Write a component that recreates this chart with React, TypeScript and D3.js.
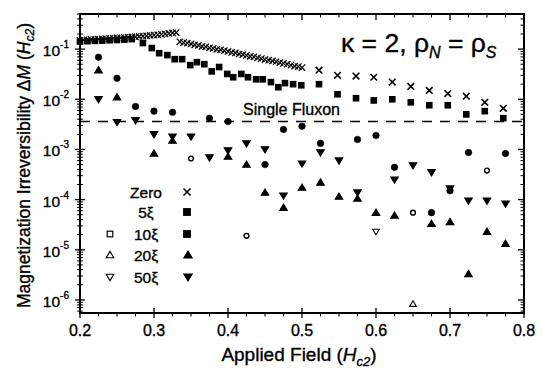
import React from "react";
import * as d3 from "d3";

// ---------- data ----------
const zeroDenseX = [
  0.2, 0.205, 0.21, 0.215, 0.22, 0.225, 0.23, 0.235, 0.24, 0.245, 0.25, 0.255, 0.26, 0.265,
  0.27, 0.275, 0.28, 0.285, 0.29, 0.295, 0.3, 0.305, 0.31, 0.315, 0.32, 0.325, 0.33,
  0.335, 0.34, 0.345, 0.35, 0.355, 0.36, 0.365, 0.37, 0.375, 0.38, 0.385, 0.39, 0.395, 0.4,
  0.405, 0.41, 0.415, 0.42, 0.425, 0.43, 0.435, 0.44, 0.445, 0.45, 0.455, 0.46, 0.465, 0.47,
  0.475, 0.48, 0.485, 0.49, 0.495, 0.5,
];
const zeroDenseY = [
  0.15, 0.152, 0.153, 0.156, 0.157, 0.158, 0.16, 0.161, 0.163, 0.165, 0.167, 0.168, 0.171, 0.173,
  0.175, 0.176, 0.179, 0.181, 0.184, 0.187, 0.19, 0.193, 0.197, 0.201, 0.205, 0.21, 0.214,
  0.14, 0.135, 0.131, 0.127, 0.122, 0.119, 0.114, 0.111, 0.106, 0.104, 0.099, 0.097, 0.093, 0.09,
  0.086, 0.084, 0.08, 0.078, 0.075, 0.072, 0.07, 0.067, 0.065, 0.062, 0.06, 0.058, 0.056, 0.054,
  0.052, 0.05, 0.048, 0.046, 0.045, 0.043,
];
const sparseX = [0.523, 0.548, 0.573, 0.597, 0.622, 0.647, 0.672, 0.697, 0.722, 0.747, 0.772];
const zeroSparseY = [0.038, 0.03, 0.029, 0.0275, 0.022, 0.018, 0.015, 0.013, 0.0115, 0.0087, 0.0066];
const fiveSparseY = [0.02, 0.0126, 0.0105, 0.0095, 0.01, 0.0087, 0.0076, 0.0076, 0.005, 0.0058, 0.0042];

const fiveDenseX = [
  0.2, 0.21, 0.22, 0.23, 0.24, 0.25, 0.26, 0.27,
  0.285, 0.297, 0.307, 0.318, 0.328, 0.338, 0.349, 0.358, 0.368, 0.378, 0.388, 0.399, 0.407,
  0.418, 0.427, 0.438, 0.447, 0.458, 0.468, 0.477, 0.488, 0.499,
];
const fiveDenseY = [
  0.142, 0.144, 0.146, 0.148, 0.15, 0.152, 0.155, 0.158,
  0.132, 0.105, 0.083, 0.076, 0.063, 0.063, 0.048, 0.055, 0.05, 0.036, 0.044, 0.032, 0.0275,
  0.032, 0.0275, 0.025, 0.025, 0.022, 0.0174, 0.021, 0.02, 0.019,
];

const tenFilledX = [0.225, 0.25, 0.275, 0.3, 0.325, 0.375, 0.4, 0.45, 0.475, 0.5, 0.525, 0.575, 0.6, 0.625, 0.675, 0.7, 0.725, 0.775];
const tenFilledY = [0.069, 0.0263, 0.0072, 0.0058, 0.0055, 0.0042, 0.0036, 0.0005, 0.0025, 0.0029, 0.00132, 0.00158, 0.0019, 0.00044, 0.000055, 0.00015, 0.00087, 0.00083];
const tenOpenX = [0.35, 0.425, 0.65, 0.75];
const tenOpenY = [0.00066, 0.000019, 0.000055, 0.00038];

const twentyFilledX = [0.225, 0.25, 0.3, 0.325, 0.4, 0.425, 0.45, 0.475, 0.5, 0.525, 0.55, 0.575, 0.6, 0.625, 0.675, 0.7, 0.725, 0.75, 0.775];
const twentyFilledY = [0.038, 0.011, 0.00083, 0.0015, 0.00072, 0.0005, 0.000138, 0.000069, 0.000174, 0.00022, 0.000115, 0.000105, 0.000055, 0.000048, 0.000033, 0.000036, 0.0000033, 0.000023, 0.0000132];
const twentyOpenX = [0.65];
const twentyOpenY = [0.00000083];

const fiftyFilledX = [0.225, 0.25, 0.275, 0.3, 0.325, 0.35, 0.375, 0.4, 0.425, 0.45, 0.475, 0.5, 0.525, 0.55, 0.575, 0.625, 0.65, 0.675, 0.7, 0.725, 0.75, 0.775];
const fiftyFilledY = [0.01, 0.0035, 0.0038, 0.002, 0.0018, 0.0018, 0.00069, 0.00095, 0.00132, 0.001, 0.00012, 0.00052, 0.00087, 0.0006, 0.000138, 0.00025, 0.00048, 0.00035, 0.000166, 0.000095, 0.000095, 0.000083];
const fiftyOpenX = [0.6];
const fiftyOpenY = [0.000023];

const singleFluxon = 0.0036;

const xTicks = [0.2, 0.3, 0.4, 0.5, 0.6, 0.7, 0.8];
const xTickLabels = ["0.2", "0.3", "0.4", "0.5", "0.6", "0.7", "0.8"];
const yExponents = [-1, -2, -3, -4, -5, -6];

const legendLabels = ["Zero", "5\u03be", "10\u03be", "20\u03be", "50\u03be"];

// ---------- layout ----------
const W = 543, H = 370;
const L = 80, R = 524, T = 14, B = 313;
const FONT = "'Liberation Sans', Arial, sans-serif";
const TS = { stroke: "#000", strokeWidth: 0.35 };

const x = d3.scaleLinear().domain([0.2, 0.8]).range([L, R]);
const y = d3.scaleLog().domain([Math.pow(10, -6.26), Math.pow(10, -0.3)]).range([B, T]);

const zip = (xs: number[], ys: number[]) => xs.map((v, i) => [v, ys[i]] as [number, number]);

function Cross({ cx, cy, s, w }: { cx: number; cy: number; s: number; w: number }) {
  return (
    <path d={`M${cx - s},${cy - s}L${cx + s},${cy + s}M${cx - s},${cy + s}L${cx + s},${cy - s}`} stroke="#000" strokeWidth={w} fill="none" />
  );
}
function Square({ cx, cy, s, filled }: { cx: number; cy: number; s: number; filled: boolean }) {
  return <rect x={cx - s} y={cy - s} width={2 * s} height={2 * s} fill={filled ? "#000" : "#fff"} stroke="#000" strokeWidth={1.2} />;
}
function Circle({ cx, cy, r, filled }: { cx: number; cy: number; r: number; filled: boolean }) {
  return <circle cx={cx} cy={cy} r={r} fill={filled ? "#000" : "#fff"} stroke="#000" strokeWidth={filled ? 0.5 : 1.4} />;
}
function Tri({ cx, cy, s, up, filled }: { cx: number; cy: number; s: number; up: boolean; filled: boolean }) {
  const d = up
    ? `M${cx},${cy - s}L${cx + s * 1.05},${cy + s * 0.75}L${cx - s * 1.05},${cy + s * 0.75}Z`
    : `M${cx},${cy + s}L${cx + s * 1.05},${cy - s * 0.75}L${cx - s * 1.05},${cy - s * 0.75}Z`;
  return <path d={d} fill={filled ? "#000" : "#fff"} stroke="#000" strokeWidth={1.1} />;
}

export default function App() {
  const xMinor: number[] = [];
  for (let v = 0.225; v < 0.8; v += 0.025) {
    const r = Math.round(v * 1000) / 1000;
    if (Math.abs(r * 10 - Math.round(r * 10)) > 1e-6) xMinor.push(r);
  }
  const yMinor: number[] = [];
  for (let e = -7; e <= -1; e++) {
    for (let k = 2; k <= 9; k++) {
      const v = k * Math.pow(10, e);
      if (v > y.domain()[0] && v < y.domain()[1]) yMinor.push(v);
    }
  }

  const tickEls: React.ReactNode[] = [];
  xTicks.forEach((t, i) => {
    const px = x(t);
    tickEls.push(<line key={"xb" + i} x1={px} x2={px} y1={B - 5} y2={B + 5} stroke="#000" strokeWidth={1.3} />);
    tickEls.push(<line key={"xt" + i} x1={px} x2={px} y1={T} y2={T + 6} stroke="#000" strokeWidth={1.3} />);
  });
  xMinor.forEach((t, i) => {
    const px = x(t);
    tickEls.push(<line key={"xbm" + i} x1={px} x2={px} y1={B} y2={B + 3.5} stroke="#000" strokeWidth={1.1} />);
    tickEls.push(<line key={"xtm" + i} x1={px} x2={px} y1={T} y2={T + 3.5} stroke="#000" strokeWidth={1.1} />);
  });
  yExponents.forEach((e, i) => {
    const py = y(Math.pow(10, e));
    tickEls.push(<line key={"yl" + i} x1={L - 5} x2={L + 5} y1={py} y2={py} stroke="#000" strokeWidth={1.3} />);
    tickEls.push(<line key={"yr" + i} x1={R - 6} x2={R} y1={py} y2={py} stroke="#000" strokeWidth={1.3} />);
  });
  yMinor.forEach((v, i) => {
    const py = y(v);
    tickEls.push(<line key={"ylm" + i} x1={L - 3} x2={L + 3} y1={py} y2={py} stroke="#000" strokeWidth={1} />);
    tickEls.push(<line key={"yrm" + i} x1={R - 3.5} x2={R} y1={py} y2={py} stroke="#000" strokeWidth={1} />);
  });

  const legendYs = [192, 212, 234, 255, 277];

  return (
    <svg width={W} height={H} style={{ position: "absolute", left: 0, top: 0, background: "#fff" }} fontFamily={FONT}>
      <rect x={0} y={0} width={W} height={H} fill="#fff" />
      {/* single fluxon line */}
      <line x1={L} x2={R} y1={y(singleFluxon)} y2={y(singleFluxon)} stroke="#000" strokeWidth={1.6} strokeDasharray="10 8" />
      <text x={243} y={115} fontSize={16} fill="#000" {...TS}>Single Fluxon</text>

      {/* data */}
      {zip(zeroDenseX, zeroDenseY).map(([a, b], i) => (
        <Cross key={"zd" + i} cx={x(a)} cy={y(b)} s={3.2} w={1.2} />
      ))}
      {zip(sparseX, zeroSparseY).map(([a, b], i) => (
        <Cross key={"zs" + i} cx={x(a)} cy={y(b)} s={3.3} w={1.6} />
      ))}
      {zip(fiveDenseX, fiveDenseY).map(([a, b], i) => (
        <Square key={"fd" + i} cx={x(a)} cy={y(b)} s={2.7} filled />
      ))}
      {zip(sparseX, fiveSparseY).map(([a, b], i) => (
        <Square key={"fs" + i} cx={x(a)} cy={y(b)} s={2.7} filled />
      ))}
      {zip(tenFilledX, tenFilledY).map(([a, b], i) => (
        <Circle key={"tf" + i} cx={x(a)} cy={y(b)} r={3.3} filled />
      ))}
      {zip(tenOpenX, tenOpenY).map(([a, b], i) => (
        <Circle key={"to" + i} cx={x(a)} cy={y(b)} r={2.4} filled={false} />
      ))}
      {zip(twentyFilledX, twentyFilledY).map(([a, b], i) => (
        <Tri key={"wf" + i} cx={x(a)} cy={y(b)} s={3.6} up filled />
      ))}
      {zip(twentyOpenX, twentyOpenY).map(([a, b], i) => (
        <Tri key={"wo" + i} cx={x(a)} cy={y(b)} s={3.2} up filled={false} />
      ))}
      {zip(fiftyFilledX, fiftyFilledY).map(([a, b], i) => (
        <Tri key={"ff" + i} cx={x(a)} cy={y(b)} s={3.6} up={false} filled />
      ))}
      {zip(fiftyOpenX, fiftyOpenY).map(([a, b], i) => (
        <Tri key={"fo" + i} cx={x(a)} cy={y(b)} s={3.2} up={false} filled={false} />
      ))}

      {/* frame */}
      <rect x={L} y={T} width={R - L} height={B - T} fill="none" stroke="#000" strokeWidth={2} />
      {tickEls}

      {/* x tick labels */}
      {xTicks.map((t, i) => (
        <text key={"xl" + i} x={x(t)} y={336} fontSize={16} textAnchor="middle" fill="#000" {...TS}>
          {xTickLabels[i]}
        </text>
      ))}
      {/* y tick labels */}
      {yExponents.map((e, i) => (
        <text key={"yl" + i} x={69} y={y(Math.pow(10, e)) + 7} fontSize={15.5} textAnchor="end" fill="#000" {...TS}>
          10
          <tspan fontSize={10} dy={-8}>{String(e)}</tspan>
        </text>
      ))}

      {/* axis titles */}
      <text x={(L + R) / 2 - 3} y={361} fontSize={19} textAnchor="middle" fill="#000" {...TS}>
        Applied Field (<tspan fontStyle="italic">H</tspan>
        <tspan fontSize={13} fontStyle="italic" dy={5}>c2</tspan>
        <tspan dy={-5}>)</tspan>
      </text>
      <text transform={`translate(30,${(T + B) / 2 + 2}) rotate(-90)`} fontSize={17.5} textAnchor="middle" fill="#000" {...TS}>
        Magnetization Irreversibility {"\u0394"}<tspan fontStyle="italic">M</tspan> (<tspan fontStyle="italic">H</tspan>
        <tspan fontSize={12} fontStyle="italic" dy={4}>c2</tspan>
        <tspan dy={-4}>)</tspan>
      </text>

      {/* annotation */}
      <text x={341} y={52} fontSize={26.5} fill="#000" {...TS}>
        {"\u03ba = 2, \u03c1"}
        <tspan fontSize={16} fontStyle="italic" dy={6}>N</tspan>
        <tspan dy={-6}>{" = \u03c1"}</tspan>
        <tspan fontSize={16} fontStyle="italic" dy={6}>S</tspan>
      </text>

      {/* legend */}
      {legendLabels.map((lab, i) => (
        <text key={"lg" + i} x={146} y={legendYs[i] + 5.5} fontSize={15.5} textAnchor="middle" fill="#000" {...TS}>
          {lab}
        </text>
      ))}
      <Cross cx={187} cy={legendYs[0]} s={3.5} w={1.6} />
      <Square cx={187} cy={legendYs[1]} s={3.3} filled />
      <Square cx={110} cy={legendYs[2]} s={2.8} filled={false} />
      <Square cx={187} cy={legendYs[2]} s={3.3} filled />
      <Tri cx={110} cy={legendYs[3]} s={3.6} up filled={false} />
      <Tri cx={188} cy={legendYs[3]} s={4} up filled />
      <Tri cx={110} cy={legendYs[4]} s={3.6} up={false} filled={false} />
      <Tri cx={188} cy={legendYs[4]} s={4} up={false} filled />
    </svg>
  );
}
